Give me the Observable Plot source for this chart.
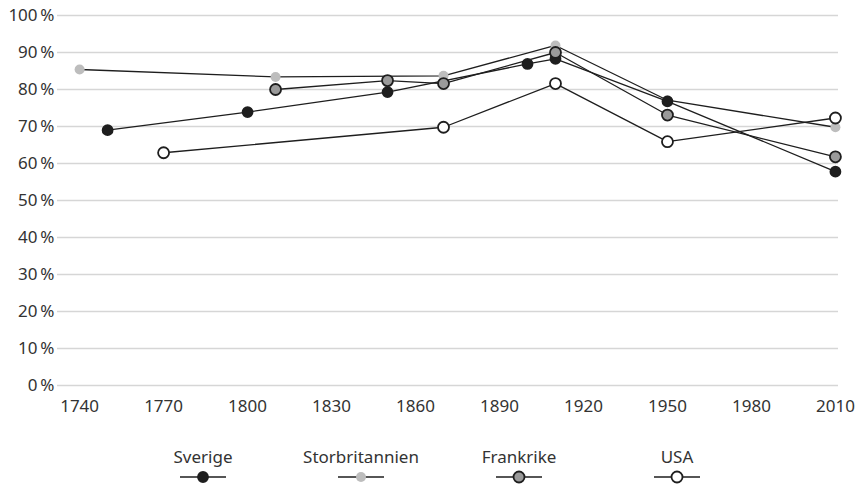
<!DOCTYPE html>
<html>
<head>
<meta charset="utf-8">
<script src="https://cdn.jsdelivr.net/npm/d3@7"></script>
<script src="https://cdn.jsdelivr.net/npm/@observablehq/plot@0.6"></script>
<style>
  html, body { margin: 0; padding: 0; background: #fff; }
  #chart { width: 857px; font-family: "Noto Sans", sans-serif; color: #333; }
  .legend { display: flex; padding-left: 124px; padding-top: 21px; }
  .item { width: 158px; display: flex; flex-direction: column; align-items: center; font-size: 17px; line-height: 22px; color: #333; }
  .item svg { display: block; margin-top: 2px; }
</style>
</head>
<body>
<div id="chart"></div>
<script>
// Data
const sverigeYears = [1750, 1800, 1850, 1900, 1910, 1950, 2010];
const sverigeValues = [69, 73.9, 79.3, 86.9, 88.3, 76.8, 57.8];
const storbYears = [1740, 1810, 1870, 1910, 1950, 2010];
const storbValues = [85.4, 83.4, 83.7, 91.9, 77.1, 69.8];
const frankYears = [1810, 1850, 1870, 1910, 1950, 2010];
const frankValues = [80, 82.4, 81.6, 90, 73.1, 61.8];
const usaYears = [1770, 1870, 1910, 1950, 2010];
const usaValues = [62.9, 69.8, 81.6, 65.9, 72.3];

const xTicks = [1740, 1770, 1800, 1830, 1860, 1890, 1920, 1950, 1980, 2010];
const yTicks = [0, 10, 20, 30, 40, 50, 60, 70, 80, 90, 100];

const seriesNames = ["Sverige", "Storbritannien", "Frankrike", "USA"];
const seriesFill = ["#1e1e1e", "#bdbdbd", "#9a9a9a", "#ffffff"];
const seriesStroke = ["#1e1e1e", "none", "#1e1e1e", "#1e1e1e"];

const toRows = (name, ys, vs) => ys.map((y, i) => ({series: name, year: y, value: vs[i]}));
const series = [
  toRows("Sverige", sverigeYears, sverigeValues),
  toRows("Storbritannien", storbYears, storbValues),
  toRows("Frankrike", frankYears, frankValues),
  toRows("USA", usaYears, usaValues)
];
const dotOrder = [1, 0, 2, 3];

const marks = [
  Plot.ruleY(yTicks, {stroke: "#d6d6d6", strokeWidth: 1.5}),
  Plot.axisY({ticks: yTicks, tickSize: 0, tickPadding: 3, tickFormat: d => d + "\u202F%", fontSize: 17, label: null}),
  Plot.axisX({ticks: xTicks, tickSize: 0, tickPadding: 14, tickFormat: d => String(d), fontSize: 17, label: null}),
  ...series.map(rows => Plot.line(rows, {x: "year", y: "value", stroke: "#1e1e1e", strokeWidth: 1.3})),
  ...dotOrder.map(i => Plot.dot(series[i], {
    x: "year", y: "value", r: i === 0 || i === 1 ? 5 : 5.5,
    fill: seriesFill[i], stroke: seriesStroke[i], strokeWidth: seriesStroke[i] === "none" ? 0 : 1.8
  }))
];

const plot = Plot.plot({
  width: 857,
  height: 425,
  marginTop: 15,
  marginBottom: 40,
  marginLeft: 57,
  marginRight: 19,
  style: {fontFamily: "Noto Sans, sans-serif", fontSize: "17px", color: "#333", background: "#fff"},
  x: {domain: [1732.1, 2011.1], label: null},
  y: {domain: [0, 100], label: null},
  marks
});
const chart = document.getElementById("chart");
chart.appendChild(plot);

// Legend
const legend = document.createElement("div");
legend.className = "legend";
seriesNames.forEach((name, i) => {
  const item = document.createElement("div");
  item.className = "item";
  const label = document.createElement("span");
  label.textContent = name;
  item.appendChild(label);
  const ns = "http://www.w3.org/2000/svg";
  const svg = document.createElementNS(ns, "svg");
  svg.setAttribute("width", "48");
  svg.setAttribute("height", "14");
  const line = document.createElementNS(ns, "line");
  line.setAttribute("x1", "1"); line.setAttribute("x2", "47");
  line.setAttribute("y1", "7"); line.setAttribute("y2", "7");
  line.setAttribute("stroke", "#1e1e1e"); line.setAttribute("stroke-width", "1.3");
  svg.appendChild(line);
  const c = document.createElementNS(ns, "circle");
  c.setAttribute("cx", "24"); c.setAttribute("cy", "7");
  c.setAttribute("r", i === 0 || i === 1 ? "5" : "5.5");
  c.setAttribute("fill", seriesFill[i]);
  if (seriesStroke[i] !== "none") { c.setAttribute("stroke", seriesStroke[i]); c.setAttribute("stroke-width", "1.8"); }
  svg.appendChild(c);
  item.appendChild(svg);
  legend.appendChild(item);
});
chart.appendChild(legend);
</script>
</body>
</html>
